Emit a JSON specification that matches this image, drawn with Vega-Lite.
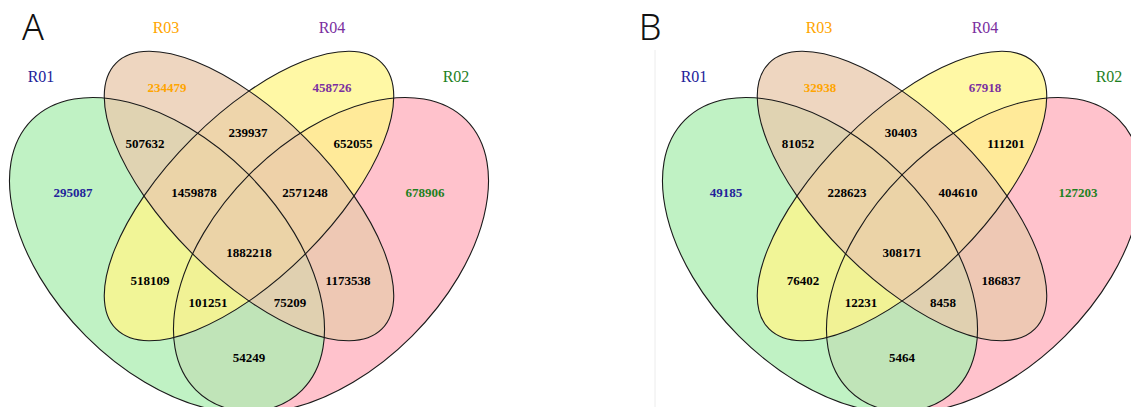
{
  "$schema": "https://vega.github.io/schema/vega-lite/v6.json",
  "width": 1131,
  "height": 407,
  "autosize": {"type": "none"},
  "padding": 0,
  "background": "white",
  "config": {"view": {"stroke": null}},
  "datasets": {
    "ellipses": [
      {"panel": "A", "set": "R02", "kind": "outer", "cx": 331, "cy": 255, "len": 382, "angle": 135},
      {"panel": "A", "set": "R01", "kind": "outer", "cx": 167, "cy": 255, "len": 382, "angle": 45},
      {"panel": "A", "set": "R04", "kind": "inner", "cx": 249, "cy": 196, "len": 376, "angle": 135},
      {"panel": "A", "set": "R03", "kind": "inner", "cx": 249, "cy": 196, "len": 376, "angle": 45},
      {"panel": "B", "set": "R02", "kind": "outer", "cx": 984, "cy": 255, "len": 382, "angle": 135},
      {"panel": "B", "set": "R01", "kind": "outer", "cx": 820, "cy": 255, "len": 382, "angle": 45},
      {"panel": "B", "set": "R04", "kind": "inner", "cx": 902, "cy": 196, "len": 376, "angle": 135},
      {"panel": "B", "set": "R03", "kind": "inner", "cx": 902, "cy": 196, "len": 376, "angle": 45}
    ],
    "setLabels": [
      {"panel": "A", "set": "R01", "x": 41, "y": 77},
      {"panel": "A", "set": "R03", "x": 166, "y": 28},
      {"panel": "A", "set": "R04", "x": 332, "y": 28},
      {"panel": "A", "set": "R02", "x": 456, "y": 77},
      {"panel": "B", "set": "R01", "x": 694, "y": 77},
      {"panel": "B", "set": "R03", "x": 819, "y": 28},
      {"panel": "B", "set": "R04", "x": 985, "y": 28},
      {"panel": "B", "set": "R02", "x": 1109, "y": 77}
    ],
    "counts": [
      {"panel": "A", "region": "R03", "group": "R03", "x": 167, "y": 88, "value": "234479"},
      {"panel": "A", "region": "R04", "group": "R04", "x": 332, "y": 88, "value": "458726"},
      {"panel": "A", "region": "R01", "group": "R01", "x": 73, "y": 193, "value": "295087"},
      {"panel": "A", "region": "R02", "group": "R02", "x": 425, "y": 193, "value": "678906"},
      {"panel": "A", "region": "R01&R03", "group": "multi", "x": 145, "y": 144, "value": "507632"},
      {"panel": "A", "region": "R03&R04", "group": "multi", "x": 248, "y": 133, "value": "239937"},
      {"panel": "A", "region": "R02&R04", "group": "multi", "x": 353, "y": 144, "value": "652055"},
      {"panel": "A", "region": "R01&R03&R04", "group": "multi", "x": 194, "y": 193, "value": "1459878"},
      {"panel": "A", "region": "R02&R03&R04", "group": "multi", "x": 305, "y": 193, "value": "2571248"},
      {"panel": "A", "region": "all", "group": "multi", "x": 249, "y": 253, "value": "1882218"},
      {"panel": "A", "region": "R01&R04", "group": "multi", "x": 150, "y": 281, "value": "518109"},
      {"panel": "A", "region": "R02&R03", "group": "multi", "x": 348, "y": 281, "value": "1173538"},
      {"panel": "A", "region": "R01&R02&R04", "group": "multi", "x": 208, "y": 303, "value": "101251"},
      {"panel": "A", "region": "R01&R02&R03", "group": "multi", "x": 290, "y": 303, "value": "75209"},
      {"panel": "A", "region": "R01&R02", "group": "multi", "x": 249, "y": 358, "value": "54249"},
      {"panel": "B", "region": "R03", "group": "R03", "x": 820, "y": 88, "value": "32938"},
      {"panel": "B", "region": "R04", "group": "R04", "x": 985, "y": 88, "value": "67918"},
      {"panel": "B", "region": "R01", "group": "R01", "x": 726, "y": 193, "value": "49185"},
      {"panel": "B", "region": "R02", "group": "R02", "x": 1078, "y": 193, "value": "127203"},
      {"panel": "B", "region": "R01&R03", "group": "multi", "x": 798, "y": 144, "value": "81052"},
      {"panel": "B", "region": "R03&R04", "group": "multi", "x": 901, "y": 133, "value": "30403"},
      {"panel": "B", "region": "R02&R04", "group": "multi", "x": 1006, "y": 144, "value": "111201"},
      {"panel": "B", "region": "R01&R03&R04", "group": "multi", "x": 847, "y": 193, "value": "228623"},
      {"panel": "B", "region": "R02&R03&R04", "group": "multi", "x": 958, "y": 193, "value": "404610"},
      {"panel": "B", "region": "all", "group": "multi", "x": 902, "y": 253, "value": "308171"},
      {"panel": "B", "region": "R01&R04", "group": "multi", "x": 803, "y": 281, "value": "76402"},
      {"panel": "B", "region": "R02&R03", "group": "multi", "x": 1001, "y": 281, "value": "186837"},
      {"panel": "B", "region": "R01&R02&R04", "group": "multi", "x": 861, "y": 303, "value": "12231"},
      {"panel": "B", "region": "R01&R02&R03", "group": "multi", "x": 943, "y": 303, "value": "8458"},
      {"panel": "B", "region": "R01&R02", "group": "multi", "x": 902, "y": 358, "value": "5464"}
    ],
    "panels": [
      {"label": "A", "x": 33, "y": 29},
      {"label": "B", "x": 650, "y": 29}
    ],
    "frame": [
      {"x": 655, "y": 50, "y2": 407}
    ]
  },
  "layer": [
    {
      "data": {"name": "frame"},
      "mark": {"type": "rule", "color": "#ececec", "strokeWidth": 1},
      "encoding": {
        "x": {"field": "x", "type": "quantitative", "scale": {"domain": [0, 1131]}, "axis": null},
        "y": {"field": "y", "type": "quantitative", "scale": {"domain": [0, 407], "reverse": true}, "axis": null},
        "y2": {"field": "y2"}
      }
    },
    {
      "data": {"name": "ellipses"},
      "mark": {"type": "point", "filled": true, "fillOpacity": 0.77, "strokeWidth": 0, "clip": true},
      "encoding": {
        "x": {"field": "cx", "type": "quantitative", "scale": {"domain": [0, 1131]}, "axis": null},
        "y": {"field": "cy", "type": "quantitative", "scale": {"domain": [0, 407], "reverse": true}, "axis": null},
        "fill": {"field": "set", "type": "nominal", "scale": {"domain": ["R01", "R02", "R03", "R04"], "range": ["#ADEEB2", "#FFAFBD", "#E9CAAD", "#FFF68A"]}, "legend": null},
        "shape": {"field": "kind", "type": "nominal", "scale": {"domain": ["outer", "inner"], "range": ["M1,0C1,0.3314,0.5523,0.6,0,0.6C-0.5523,0.6,-1,0.3314,-1,0C-1,-0.3314,-0.5523,-0.6,0,-0.6C0.5523,-0.6,1,-0.3314,1,0Z", "M1,0C1,0.2375,0.5523,0.43,0,0.43C-0.5523,0.43,-1,0.2375,-1,0C-1,-0.2375,-0.5523,-0.43,0,-0.43C0.5523,-0.43,1,-0.2375,1,0Z"]}, "legend": null},
        "size": {"field": "len", "type": "quantitative", "scale": {"type": "pow", "exponent": 2, "domain": [0, 400], "range": [0, 160000]}, "legend": null},
        "angle": {"field": "angle", "type": "quantitative", "scale": null}
      }
    },
    {
      "data": {"name": "ellipses"},
      "mark": {"type": "point", "filled": false, "stroke": "#1a1a1a", "strokeWidth": 1.1, "opacity": 1, "clip": true},
      "encoding": {
        "x": {"field": "cx", "type": "quantitative", "scale": {"domain": [0, 1131]}, "axis": null},
        "y": {"field": "cy", "type": "quantitative", "scale": {"domain": [0, 407], "reverse": true}, "axis": null},
        "shape": {"field": "kind", "type": "nominal", "scale": {"domain": ["outer", "inner"], "range": ["M1,0C1,0.3314,0.5523,0.6,0,0.6C-0.5523,0.6,-1,0.3314,-1,0C-1,-0.3314,-0.5523,-0.6,0,-0.6C0.5523,-0.6,1,-0.3314,1,0Z", "M1,0C1,0.2375,0.5523,0.43,0,0.43C-0.5523,0.43,-1,0.2375,-1,0C-1,-0.2375,-0.5523,-0.43,0,-0.43C0.5523,-0.43,1,-0.2375,1,0Z"]}, "legend": null},
        "size": {"field": "len", "type": "quantitative", "scale": {"type": "pow", "exponent": 2, "domain": [0, 400], "range": [0, 160000]}, "legend": null},
        "angle": {"field": "angle", "type": "quantitative", "scale": null}
      }
    },
    {
      "data": {"name": "setLabels"},
      "mark": {"type": "text", "font": "Liberation Serif, Times New Roman, serif", "fontSize": 16, "fontWeight": "normal", "align": "center", "baseline": "middle"},
      "encoding": {
        "x": {"field": "x", "type": "quantitative", "scale": {"domain": [0, 1131]}, "axis": null},
        "y": {"field": "y", "type": "quantitative", "scale": {"domain": [0, 407], "reverse": true}, "axis": null},
        "text": {"field": "set"},
        "color": {"field": "set", "type": "nominal", "scale": {"domain": ["R01", "R02", "R03", "R04", "multi"], "range": ["#22229A", "#1E801E", "#FFA500", "#7A2FA0", "#000000"]}, "legend": null}
      }
    },
    {
      "data": {"name": "counts"},
      "mark": {"type": "text", "font": "Liberation Serif, Times New Roman, serif", "fontSize": 13, "fontWeight": "bold", "align": "center", "baseline": "middle"},
      "encoding": {
        "x": {"field": "x", "type": "quantitative", "scale": {"domain": [0, 1131]}, "axis": null},
        "y": {"field": "y", "type": "quantitative", "scale": {"domain": [0, 407], "reverse": true}, "axis": null},
        "text": {"field": "value"},
        "color": {"field": "group", "type": "nominal", "scale": {"domain": ["R01", "R02", "R03", "R04", "multi"], "range": ["#22229A", "#1E801E", "#FFA500", "#7A2FA0", "#000000"]}, "legend": null}
      }
    },
    {
      "data": {"name": "panels"},
      "mark": {"type": "text", "font": "Noto Sans", "fontSize": 36, "fontWeight": 300, "align": "center", "baseline": "middle", "color": "#111111"},
      "encoding": {
        "x": {"field": "x", "type": "quantitative", "scale": {"domain": [0, 1131]}, "axis": null},
        "y": {"field": "y", "type": "quantitative", "scale": {"domain": [0, 407], "reverse": true}, "axis": null},
        "text": {"field": "label"}
      }
    }
  ]
}
